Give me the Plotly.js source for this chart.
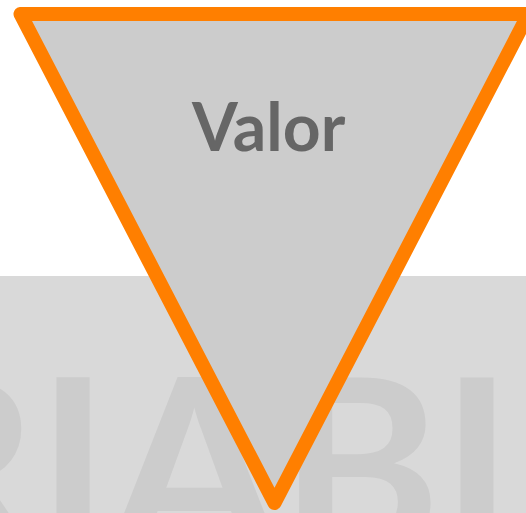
<!DOCTYPE html>
<html><head><meta charset="utf-8">
<script src="https://cdn.plot.ly/plotly-3.0.1.min.js"></script>
<style>
html,body{margin:0;padding:0;background:#fff;overflow:hidden}
#chart{width:526px;height:513px}
.scatterlayer .js-line{stroke-linejoin:round;stroke-linecap:round}
</style></head><body><div id="chart"></div>
<script>
// data
const categories = ["Valor"];
const funnelX = [-1, 1, 0, -1];
const funnelY = [1, 1, 0, 1];
const backgroundLabel = ["VARIABLE"];
const backgroundLabelX = [-0.565];
const backgroundLabelY = [0.018];
const labelX = [-0.0217];
const labelY = [0.771];

const traces = [
  {
    type: 'scatter', mode: 'text',
    x: backgroundLabelX, y: backgroundLabelY, text: backgroundLabel,
    textposition: 'middle center',
    textfont: {family: 'Lato', size: 245, color: '#cccccc', weight: 700},
    cliponaxis: false, hoverinfo: 'skip', showlegend: false
  },
  {
    type: 'scatter', mode: 'lines',
    x: funnelX, y: funnelY,
    fill: 'toself', fillcolor: '#cccccc',
    line: {color: '#ff7f00', width: 14},
    cliponaxis: false, hoverinfo: 'skip', showlegend: false
  }
];

const layout = {
  width: 526, height: 513,
  margin: {l: 0, r: 0, t: 0, b: 0, pad: 0},
  paper_bgcolor: '#ffffff', plot_bgcolor: 'rgba(0,0,0,0)',
  showlegend: false,
  xaxis: {range: [-1.0807, 0.9902], visible: false, fixedrange: true},
  yaxis: {range: [-0.02045, 1.02863], visible: false, fixedrange: true},
  shapes: [{
    type: 'rect', xref: 'paper', yref: 'paper', layer: 'below',
    x0: 0, x1: 1, y0: -0.1, y1: 0.462,
    fillcolor: '#d9d9d9', line: {width: 0}
  }],
  annotations: [{
    x: labelX[0], y: labelY[0], xref: 'x', yref: 'y',
    text: categories[0], showarrow: false,
    xanchor: 'center', yanchor: 'middle',
    font: {family: 'Lato', size: 66, color: '#666666', weight: 700}
  }]
};

Plotly.newPlot('chart', traces, layout, {staticPlot: true, displayModeBar: false});
</script></body></html>
